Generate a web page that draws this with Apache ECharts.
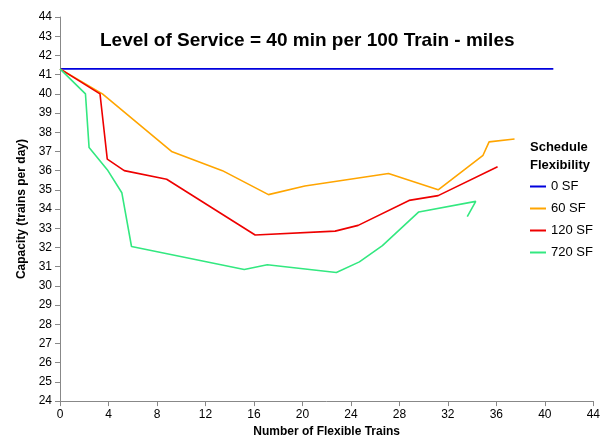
<!DOCTYPE html>
<html><head><meta charset="utf-8">
<script src="https://cdn.jsdelivr.net/npm/echarts@6/dist/echarts.min.js"></script>
<style>html,body{margin:0;background:#fff}#c{width:603px;height:443px}</style>
</head><body><div id="c"></div>
<script>
const sf0 = [[0, 41.3], [40.7, 41.3]];
const sf60 = [[0, 41.3], [3.5, 40.0], [9.2, 37.0], [13.4, 36.0], [17.2, 34.75], [20.2, 35.2], [27.1, 35.85], [31.2, 35.0], [34.9, 36.8], [35.4, 37.5], [37.5, 37.65]];
const sf120 = [[0, 41.3], [3.3, 40.0], [3.9, 36.6], [5.3, 36.0], [8.8, 35.55], [16.1, 32.65], [22.7, 32.85], [24.6, 33.15], [28.8, 34.45], [31.2, 34.7], [36.1, 36.2]];
const sf720 = [[0, 41.3], [2.1, 40.0], [2.4, 37.2], [3.9, 36.05], [5.1, 34.85], [5.9, 32.05], [15.2, 30.85], [17.1, 31.1], [22.8, 30.7], [24.7, 31.25], [26.6, 32.1], [29.6, 33.85], [34.3, 34.4], [33.6, 33.6]];
const chart = echarts.init(document.getElementById('c'));
const font = 'Liberation Sans';
function s(name, data, color) {
  return { name, type: 'line', data, symbol: 'none', lineStyle: { color, width: 1.6 }, itemStyle: { color } };
}
chart.setOption({
  animation: false,
  textStyle: { fontFamily: font },
  title: { text: 'Level of Service = 40 min per 100 Train - miles', left: 95, top: 26,
    textStyle: { fontSize: 19, fontWeight: 'bold', color: '#000', fontFamily: font } },
  graphic: [{ type: 'text', left: 530, top: 138, style: { text: 'Schedule\nFlexibility', font: 'bold 13px Liberation Sans', fill: '#000', lineHeight: 18 } }],
  legend: { orient: 'vertical', left: 525, top: 175, itemGap: 9, itemWidth: 16, itemHeight: 2,
    icon: 'rect', textStyle: { fontSize: 13, color: '#000' } },
  grid: { left: 60, right: 3, top: 17, bottom: 38 - 4 },
  xAxis: { type: 'value', min: 0, max: 44, interval: 4, name: 'Number of Flexible Trains',
    nameLocation: 'middle', nameGap: 20, nameTextStyle: { fontWeight: 'bold', fontSize: 12, color: '#000' },
    axisLine: { lineStyle: { color: '#888' } }, axisTick: { show: true, lineStyle: { color: '#888' } },
    axisLabel: { color: '#000', fontSize: 12 }, splitLine: { show: false } },
  yAxis: { type: 'value', min: 24, max: 44, interval: 1, name: 'Capacity (trains per day)',
    nameLocation: 'middle', nameGap: 32, nameTextStyle: { fontWeight: 'bold', fontSize: 12, color: '#000' },
    axisLine: { show: true, lineStyle: { color: '#888' } }, axisTick: { show: true, lineStyle: { color: '#888' } },
    axisLabel: { color: '#000', fontSize: 12 }, splitLine: { show: false } },
  series: [s('0 SF', sf0, '#0000dd'), s('60 SF', sf60, '#ffa500'), s('120 SF', sf120, '#ee0000'), s('720 SF', sf720, '#33e880')]
});
</script></body></html>
